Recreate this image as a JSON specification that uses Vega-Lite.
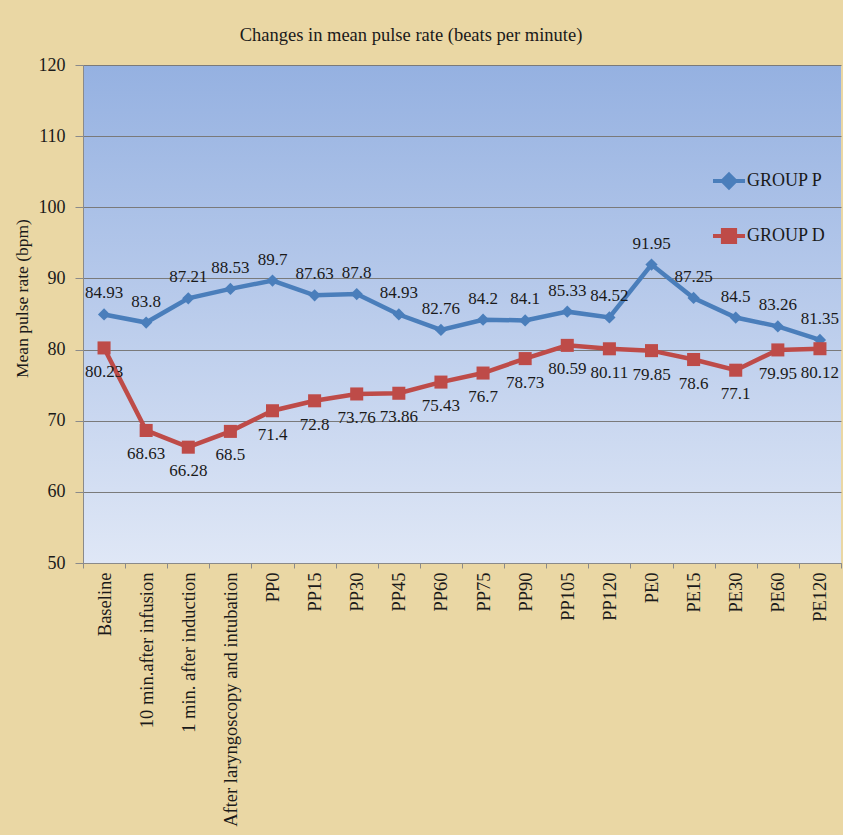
{
  "$schema": "https://vega.github.io/schema/vega-lite/v6.json",
  "autosize": "none",
  "width": 758,
  "height": 498,
  "padding": {"left": 83, "top": 65, "right": 2, "bottom": 272},
  "background": "#EAD7A4",
  "title": {
    "text": "Changes in mean pulse rate (beats per minute)",
    "font": "Liberation Serif",
    "fontSize": 18.5,
    "fontWeight": "normal",
    "color": "#1a1a1a",
    "anchor": "middle",
    "dx": -51,
    "offset": 12
  },
  "config": {
    "view": {
      "stroke": null,
      "fill": {
        "gradient": "linear",
        "x1": 0, "y1": 0, "x2": 0, "y2": 1,
        "stops": [
          {"offset": 0, "color": "#95B1E1"},
          {"offset": 1, "color": "#DFE7F6"}
        ]
      }
    },
    "axis": {
      "labelFont": "Liberation Serif",
      "titleFont": "Liberation Serif",
      "labelColor": "#1a1a1a",
      "titleColor": "#1a1a1a",
      "domainColor": "#8a8a8a",
      "tickColor": "#8a8a8a",
      "gridColor": "#7a7a7a"
    }
  },
  "data": {
    "values": [
      {"time": "Baseline", "group": "GROUP P", "value": 84.93},
      {"time": "10 min.after infusion", "group": "GROUP P", "value": 83.8},
      {"time": "1 min. after induction", "group": "GROUP P", "value": 87.21},
      {"time": "After laryngoscopy and intubation", "group": "GROUP P", "value": 88.53},
      {"time": "PP0", "group": "GROUP P", "value": 89.7},
      {"time": "PP15", "group": "GROUP P", "value": 87.63},
      {"time": "PP30", "group": "GROUP P", "value": 87.8},
      {"time": "PP45", "group": "GROUP P", "value": 84.93},
      {"time": "PP60", "group": "GROUP P", "value": 82.76},
      {"time": "PP75", "group": "GROUP P", "value": 84.2},
      {"time": "PP90", "group": "GROUP P", "value": 84.1},
      {"time": "PP105", "group": "GROUP P", "value": 85.33},
      {"time": "PP120", "group": "GROUP P", "value": 84.52},
      {"time": "PE0", "group": "GROUP P", "value": 91.95},
      {"time": "PE15", "group": "GROUP P", "value": 87.25},
      {"time": "PE30", "group": "GROUP P", "value": 84.5},
      {"time": "PE60", "group": "GROUP P", "value": 83.26},
      {"time": "PE120", "group": "GROUP P", "value": 81.35},
      {"time": "Baseline", "group": "GROUP D", "value": 80.23},
      {"time": "10 min.after infusion", "group": "GROUP D", "value": 68.63},
      {"time": "1 min. after induction", "group": "GROUP D", "value": 66.28},
      {"time": "After laryngoscopy and intubation", "group": "GROUP D", "value": 68.5},
      {"time": "PP0", "group": "GROUP D", "value": 71.4},
      {"time": "PP15", "group": "GROUP D", "value": 72.8},
      {"time": "PP30", "group": "GROUP D", "value": 73.76},
      {"time": "PP45", "group": "GROUP D", "value": 73.86},
      {"time": "PP60", "group": "GROUP D", "value": 75.43},
      {"time": "PP75", "group": "GROUP D", "value": 76.7},
      {"time": "PP90", "group": "GROUP D", "value": 78.73},
      {"time": "PP105", "group": "GROUP D", "value": 80.59},
      {"time": "PP120", "group": "GROUP D", "value": 80.11},
      {"time": "PE0", "group": "GROUP D", "value": 79.85},
      {"time": "PE15", "group": "GROUP D", "value": 78.6},
      {"time": "PE30", "group": "GROUP D", "value": 77.1},
      {"time": "PE60", "group": "GROUP D", "value": 79.95},
      {"time": "PE120", "group": "GROUP D", "value": 80.12}
    ]
  },
  "encoding": {
    "x": {
      "field": "time",
      "type": "nominal",
      "sort": null,
      "scale": {"type": "band", "paddingInner": 0, "paddingOuter": 0},
      "axis": {
        "title": null,
        "labelAngle": -90,
        "labelFontSize": 18.5,
        "labelLimit": 320,
        "labelOverlap": false,
        "labelPadding": 4,
        "tickSize": 5,
        "tickBand": "extent",
        "grid": false
      }
    },
    "y": {
      "field": "value",
      "type": "quantitative",
      "scale": {"domain": [50, 120], "nice": false, "zero": false},
      "axis": {
        "title": "Mean pulse rate (bpm)",
        "titleFontSize": 17.5,
        "titleFontWeight": "normal",
        "titleAngle": -90,
        "titleX": -61,
        "titleY": 233,
        "titleAlign": "center",
        "titleBaseline": "middle",
        "values": [50, 60, 70, 80, 90, 100, 110, 120],
        "labelFontSize": 18,
        "labelPadding": 10,
        "tickSize": 8,
        "grid": true,
        "gridWidth": 1
      }
    }
  },
  "layer": [
    {
      "mark": {"type": "line", "strokeWidth": 4.5},
      "encoding": {
        "stroke": {
          "field": "group",
          "type": "nominal",
          "scale": {"domain": ["GROUP P", "GROUP D"], "range": ["#4A7EBB", "#BE4B48"]},
          "legend": {
            "title": null,
            "orient": "none",
            "legendX": 628,
            "legendY": 98,
            "padding": 0,
            "symbolSize": 1024,
            "symbolStrokeWidth": 4,
            "rowPadding": 22,
            "labelFont": "Liberation Serif",
            "labelFontSize": 18,
            "labelColor": "#1a1a1a",
            "labelOffset": 0,
            "labelLimit": 200,
            "encode": {
              "symbols": {
                "update": {
                  "shape": {"signal": "datum.value === 'GROUP P' ? 'M-1,0H1M0,-0.4L0.4,0L0,0.4L-0.4,0Z' : 'M-1,0H1M-0.38,-0.38H0.38V0.38H-0.38Z'"},
                  "stroke": {"signal": "datum.value === 'GROUP P' ? '#4A7EBB' : '#BE4B48'"},
                  "fill": {"signal": "datum.value === 'GROUP P' ? '#4A7EBB' : '#BE4B48'"},
                  "strokeWidth": {"value": 4},
                  "opacity": {"value": 1}
                }
              }
            }
          }
        }
      }
    },
    {
      "transform": [{"filter": "datum.group === 'GROUP P'"}],
      "mark": {"type": "point", "filled": true, "opacity": 1, "shape": "diamond", "size": 150, "color": "#4A7EBB"}
    },
    {
      "transform": [{"filter": "datum.group === 'GROUP D'"}],
      "mark": {"type": "point", "filled": true, "opacity": 1, "shape": "square", "size": 170, "color": "#BE4B48"}
    },
    {
      "transform": [{"filter": "datum.group === 'GROUP P'"}],
      "mark": {"type": "text", "dy": -21, "font": "Liberation Serif", "fontSize": 17, "color": "#1a1a1a"},
      "encoding": {"text": {"field": "value", "type": "nominal"}}
    },
    {
      "transform": [{"filter": "datum.group === 'GROUP D'"}],
      "mark": {"type": "text", "dy": 24, "font": "Liberation Serif", "fontSize": 17, "color": "#1a1a1a"},
      "encoding": {"text": {"field": "value", "type": "nominal"}}
    }
  ]
}
